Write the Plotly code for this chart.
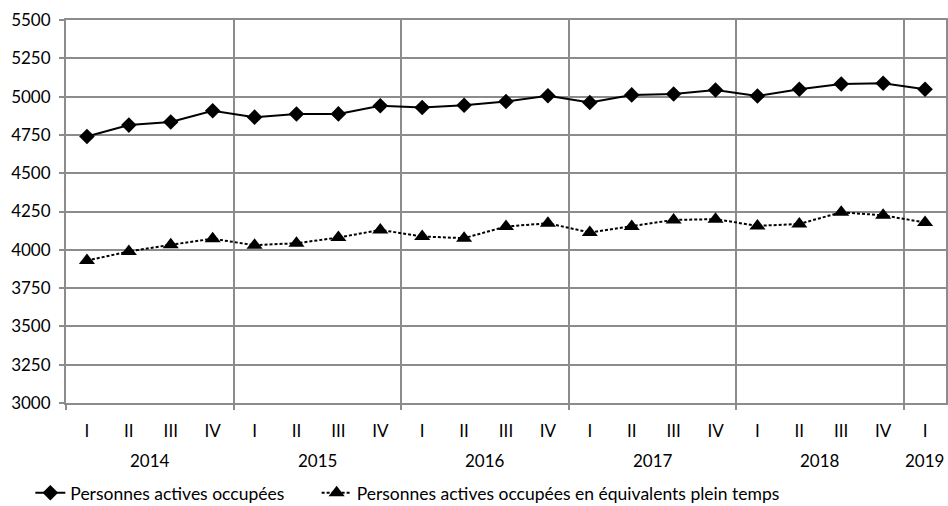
import plotly.graph_objects as go

quarters = ["I", "II", "III", "IV"] * 5 + ["I"]
years = ["2014", "2015", "2016", "2017", "2018", "2019"]
year_centers = [1.5, 5.5, 9.5, 13.5, 17.5, 20]
x_idx = list(range(len(quarters)))

actives = [4740, 4814, 4834, 4908, 4866, 4886, 4887, 4940, 4929, 4944, 4968,
           5006, 4961, 5011, 5017, 5043, 5004, 5048, 5082, 5087, 5048]
etp = [3930, 3989, 4033, 4072, 4030, 4043, 4080, 4130, 4087, 4076, 4152,
       4173, 4113, 4152, 4195, 4200, 4156, 4169, 4245, 4225, 4178]

names = ["Personnes actives occupées",
         "Personnes actives occupées en équivalents plein temps"]

FONT = "Lato"
GRID = "#8c8c8c"

fig = go.Figure()
fig.add_trace(go.Scatter(
    x=x_idx, y=actives, name=names[0], mode="lines+markers",
    line=dict(color="black", width=2),
    marker=dict(symbol="diamond", size=12, color="black"),
    legend="legend",
))
fig.add_trace(go.Scatter(
    x=x_idx, y=etp, name=names[1], mode="lines+markers",
    line=dict(color="black", width=2, dash="3px,2px"),
    marker=dict(symbol="triangle-up", size=14, color="black"),
    legend="legend2",
))

for i, (yr, xc) in enumerate(zip(years, year_centers)):
    last = i == len(years) - 1
    fig.add_annotation(x=(20.5 if last else xc), y=-0.151, xref="x", yref="paper",
                       text=yr, showarrow=False, yanchor="middle",
                       xanchor=("right" if last else "center"),
                       font=dict(family=FONT, size=17, color="black"))

legend_common = dict(orientation="h", xref="container", yref="container",
                     xanchor="left", y=0.026, yanchor="middle",
                     font=dict(family=FONT, size=17.5, color="black"),
                     bgcolor="rgba(0,0,0,0)", borderwidth=0)

fig.update_layout(
    width=948, height=506,
    margin=dict(l=66, r=2, t=20, b=103, autoexpand=False),
    paper_bgcolor="white", plot_bgcolor="white",
    font=dict(family=FONT, size=17, color="black"),
    showlegend=True,
    legend=dict(x=0.032, **legend_common),
    legend2=dict(x=0.334, **legend_common),
    xaxis=dict(
        range=[-0.5, 20.5], tickmode="array", tickvals=x_idx, ticktext=quarters,
        ticks="", showgrid=False, zeroline=False, automargin=False,
        showline=True, linecolor=GRID, linewidth=2, mirror=True,
        ticklabelstandoff=12,
        tickfont=dict(family=FONT, size=17, color="black"),
        minor=dict(tick0=3.5, dtick=4, showgrid=True, gridcolor=GRID,
                   gridwidth=2, ticks="outside", ticklen=5, tickcolor=GRID,
                   tickwidth=2),
    ),
    yaxis=dict(
        range=[3000, 5500], dtick=250, tick0=3000, automargin=False,
        showgrid=True, gridcolor=GRID, gridwidth=2, zeroline=False,
        showline=True, linecolor=GRID, linewidth=2, mirror=True,
        ticks="outside", ticklen=5, tickcolor=GRID, tickwidth=2,
        ticklabelstandoff=5,
        tickfont=dict(family=FONT, size=17, color="black"),
    ),
)

fig.write_html("out.html", config={"displayModeBar": False},
               post_script="document.body.style.margin='0';document.body.style.padding='0';")
